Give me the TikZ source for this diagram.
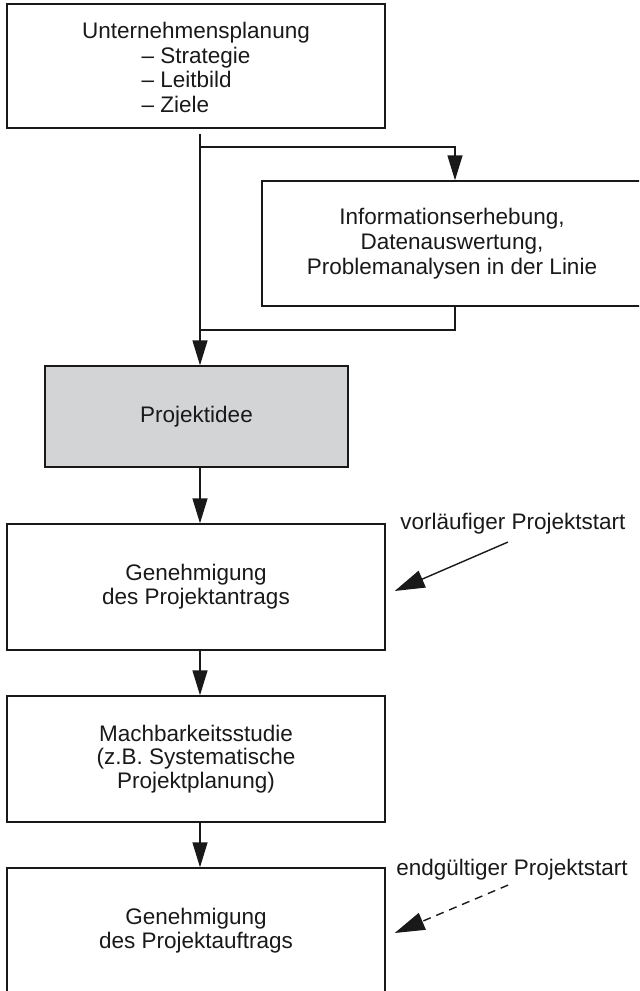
\documentclass[tikz,border=0pt]{standalone}
\usepackage{fontspec}
\setmainfont{Liberation Sans}
\usetikzlibrary{arrows.meta}
\definecolor{ink}{RGB}{25,25,25}
\definecolor{ideafill}{RGB}{211,212,214}
\begin{document}
\begin{tikzpicture}[x=0.5pt,y=-0.5pt,
  box/.style={draw=ink, line width=0.7pt, inner sep=0pt, align=center, text=ink,
    font=\fontsize{11.25pt}{12.5pt}\selectfont},
  lowbox/.style={box, minimum width=189pt, minimum height=63pt,
    font=\fontsize{11.25pt}{11.9pt}\selectfont},
  words/.style={inner sep=0pt, align=center, text=ink,
    font=\fontsize{11.25pt}{12.4pt}\selectfont},
  line/.style={draw=ink, line width=0.7pt},
  arr/.style={line, -{Triangle[length=12.5pt,width=7.5pt]}},
  diag/.style={line, -{Triangle[length=15pt,width=9pt]}},
  tag/.style={inner sep=0pt, text=ink, font=\fontsize{11.25pt}{12.6pt}\selectfont}
]
\useasboundingbox (0,0) rectangle (639,991);
\clip (0,0) rectangle (639,991);

% upper part: planning and line analyses
\node[box, minimum width=189pt, minimum height=62pt] (plan) at (196,66) {};
\node[words] (plantext) at ([yshift=-2.5pt]plan.center)
  {Unternehmensplanung\\
   \begin{tabular}[t]{@{}l@{}}– Strategie\\– Leitbild\\– Ziele\end{tabular}};
\node[box, minimum width=190pt, minimum height=62.5pt] (info) at (452,243.5)
  {Informationserhebung,\\Datenauswertung,\\Problemanalysen in der Linie};

% project idea and the approval chain
\node[box, fill=ideafill, minimum width=151.5pt, minimum height=50.5pt,
  font=\fontsize{11.25pt}{11.9pt}\selectfont] (idea) at (196.5,416.5) {Projektidee};
\node[lowbox] (antrag) at (196,587) {Genehmigung\\des Projektantrags};
\node[lowbox] (studie) at (196,759) {Machbarkeitsstudie\\(z.B. Systematische\\Projektplanung)};
\node[lowbox] (auftrag) at (196,931) {Genehmigung\\des Projektauftrags};

% side labels
\node[tag, anchor=base west] (vorl) at (400,529) {vorläufiger Projektstart};
\node[tag, anchor=base west] (endg) at (396,875) {endgültiger Projektstart};

% spine and branch through the analyses box
\coordinate (s0) at (200,134);
\coordinate (split) at (200,147);
\coordinate (join) at (200,330);
\coordinate (bx) at (455,0);
\draw[arr] (s0) -- (idea.north -| s0);
\draw[arr] (split) -| (info.north -| bx);
\draw[line] (info.south -| bx) |- (join);

% downward flow
\draw[arr] (idea.south -| s0) -- (antrag.north -| s0);
\draw[arr] (antrag.south -| s0) -- (studie.north -| s0);
\draw[arr] (studie.south -| s0) -- (auftrag.north -| s0);

% project start markers
\draw[diag] ([xshift=-2.5pt,yshift=-4pt]vorl.south) -- ([xshift=4.5pt,yshift=-2pt]antrag.east);
\draw[diag, dash pattern=on 4pt off 3pt] ([xshift=-2pt,yshift=-2.5pt]endg.south) -- ([xshift=4.5pt,yshift=-1pt]auftrag.east);
\end{tikzpicture}
\end{document}
